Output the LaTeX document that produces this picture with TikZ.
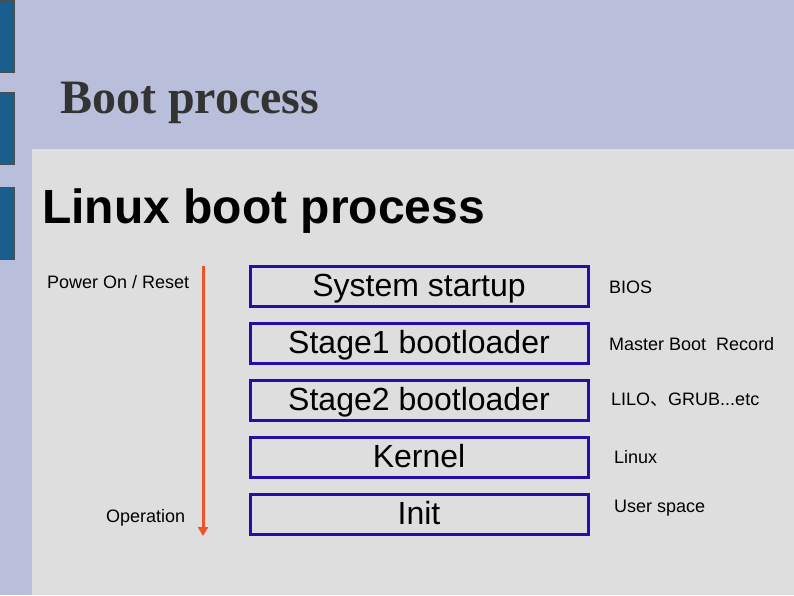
\documentclass[tikz,border=0pt]{standalone}
\usepackage{fontspec}
\setmainfont{Liberation Sans}
\newfontfamily\serifb{Liberation Serif}
\newfontfamily\cjk{Noto Sans CJK SC}
\usetikzlibrary{arrows.meta}
\definecolor{bgc}{HTML}{B9BFDB}
\definecolor{panel}{HTML}{DEDEDE}
\definecolor{barc}{HTML}{1A5E8E}
\definecolor{boxc}{HTML}{2A0CA8}
\definecolor{arr}{HTML}{F0502A}
\tikzset{
  stage/.style={draw=boxc,line width=3pt,minimum width=338pt,minimum height=40pt,inner sep=0pt,font=\fontsize{32}{34}\selectfont,text height=23pt,text depth=3pt,anchor=north west},
  side/.style={font=\fontsize{18}{20}\selectfont,anchor=west,inner sep=0pt},
  bar/.style={fill=barc,draw=black!70,line width=0.8pt}
}
\begin{document}
\begin{tikzpicture}[x=1pt,y=-1pt]
\useasboundingbox (0,0) rectangle (794,595);
\fill[bgc] (0,0) rectangle (794,595);
\fill[panel] (32,149) rectangle (794,595);
\draw[bar] (-2,0) rectangle (14,72);
\draw[bar] (-2,92) rectangle (14,164);
\draw[bar] (-2,187) rectangle (14,259);
\node[anchor=base west,inner sep=0pt,text=black!80,font={\serifb\bfseries\fontsize{48}{50}\selectfont}] (title) at (60,113) {Boot process};
\node[anchor=base west,inner sep=0pt,font={\bfseries\fontsize{48}{50}\selectfont}] (sub) at (42,223) {Linux boot process};
\node[stage] (s1) at (248.5,264.5) {System startup};
\node[stage] (s2) at (248.5,321.5) {Stage1 bootloader};
\node[stage] (s3) at (248.5,378.5) {Stage2 bootloader};
\node[stage] (s4) at (248.5,435.5) {Kernel};
\node[stage] (s5) at (248.5,492.5) {Init};
\node[side] (l1) at (609,287) {BIOS};
\node[side] (l2) at (609,344) {Master Boot\ \ Record};
\node[side] (l3) at (611,400) {LILO{\cjk 、}GRUB...etc};
\node[side] (l4) at (614,457) {Linux};
\node[side] (l5) at (614,508) {User space};
\node[side] (pon) at (47,282) {Power On / Reset};
\node[side] (op) at (106,518) {Operation};
\coordinate (a1) at (203,266);
\coordinate (a2) at (203,536);
\draw[arr,line width=3pt,-{Triangle[length=9pt,width=10pt]}] (a1) -- (a2);
\end{tikzpicture}
\end{document}
